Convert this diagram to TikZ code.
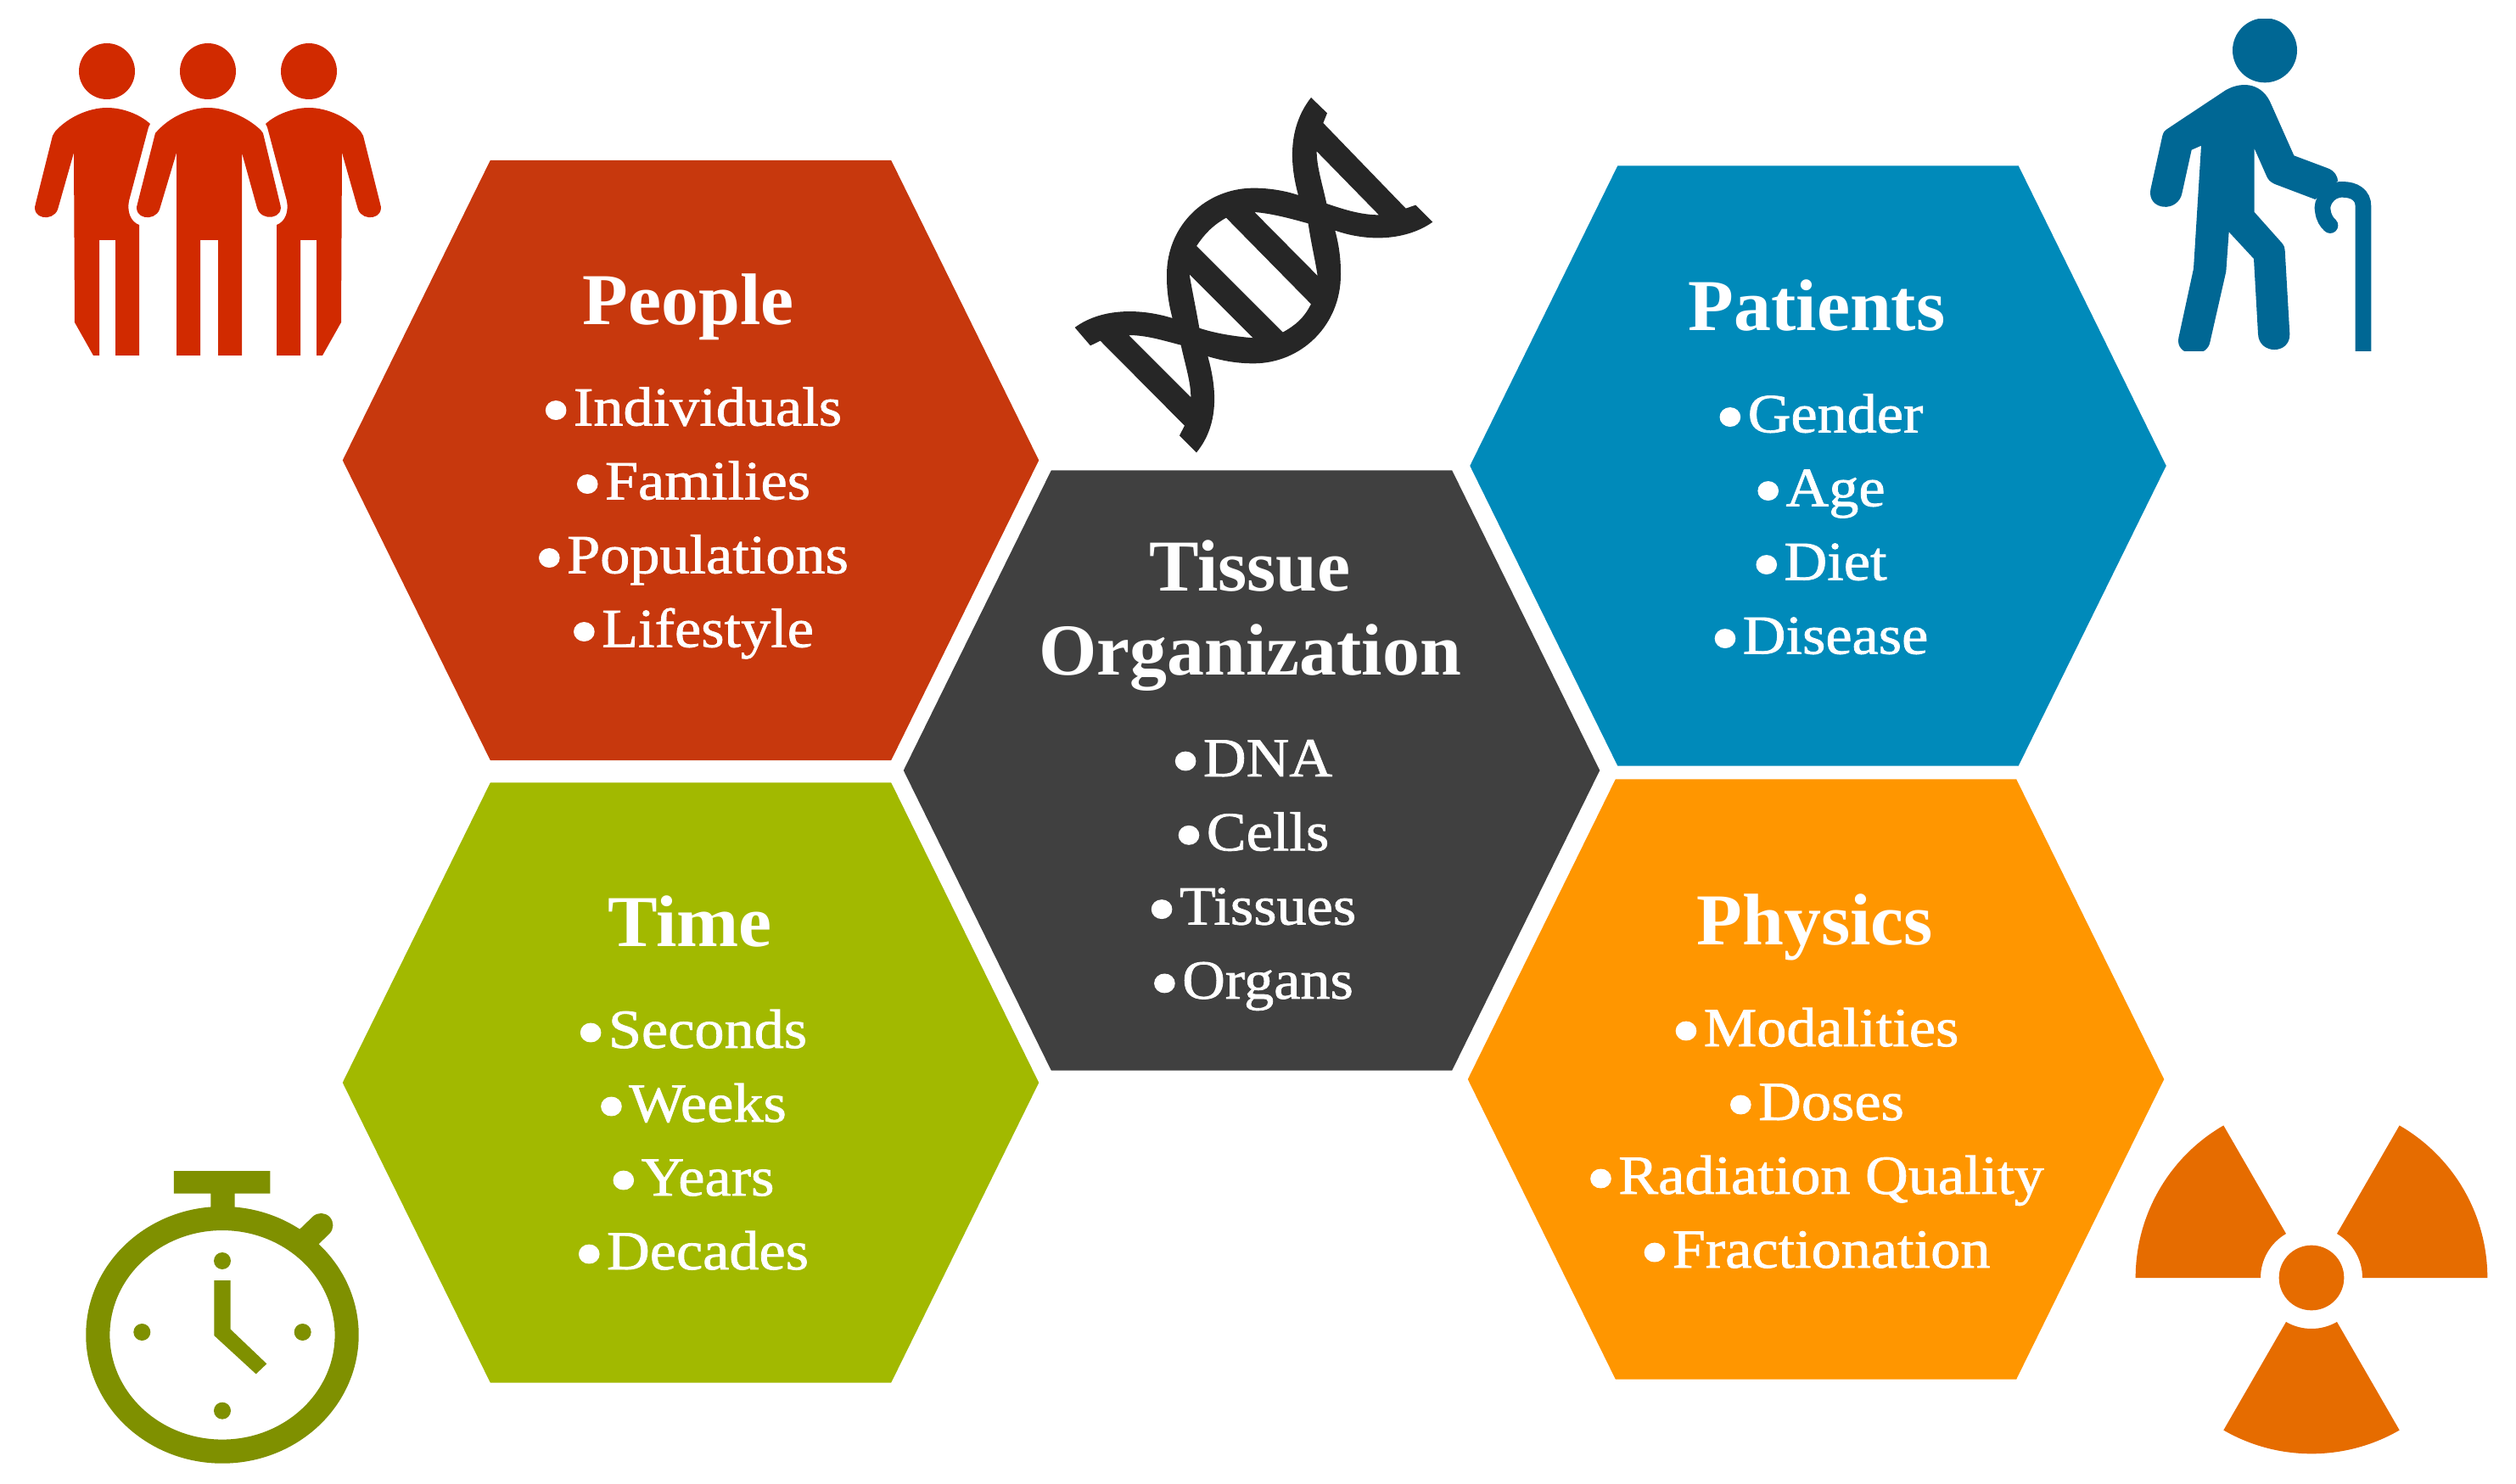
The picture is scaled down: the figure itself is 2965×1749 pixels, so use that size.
\documentclass[tikz,border=0pt]{standalone}
\usepackage{fontspec}
\setmainfont[FakeStretch=1.02]{Liberation Serif}
\newfontfamily\itemfont[FakeStretch=1.08,FakeBold=1.2]{Liberation Serif}
\definecolor{peopleRed}{HTML}{C7380D}
\definecolor{patientBlue}{HTML}{008ABA}
\definecolor{timeGreen}{HTML}{A2B900}
\definecolor{physicsOrange}{HTML}{FF9600}
\definecolor{tissueGrey}{HTML}{404040}
\definecolor{iconRed}{HTML}{D12A00}
\definecolor{iconBlue}{HTML}{006794}
\definecolor{iconGreen}{HTML}{7F9000}
\definecolor{iconOrange}{HTML}{E66C00}
\definecolor{iconDark}{HTML}{262626}
\newcommand{\hexbullet}{\raisebox{-3.5pt}{\fontsize{26}{26}\selectfont\textbullet}\kern1pt}
\tikzset{
  hexcell/.style={minimum width=8.2cm,minimum height=7.07cm,inner sep=0pt,
    path picture={\fill[#1] (path picture bounding box.west)
      -- ([xshift=1.74cm]path picture bounding box.north west) -- ([xshift=-1.74cm]path picture bounding box.north east)
      -- (path picture bounding box.east)
      -- ([xshift=-1.74cm]path picture bounding box.south east) -- ([xshift=1.74cm]path picture bounding box.south west) -- cycle;}},
  hextitle/.style={anchor=base,text=white,font=\fontsize{24.5}{28}\selectfont\bfseries},
  hexitem/.style={anchor=base,text=white,font=\fontsize{18.5}{22}\itemfont}
}
\begin{document}
\begin{tikzpicture}[x=0.01cm,y=-0.01cm]
\path[fill=white,use as bounding box] (0,0) rectangle (2965,1749);

% hexagons
\node[hexcell=peopleRed] (people) at (814,542.5) {};
\node[hexcell=patientBlue] (patients) at (2142.5,549) {};
\node[hexcell=timeGreen] (time) at (814,1276) {};
\node[hexcell=physicsOrange] (physics) at (2140,1272) {};
\node[hexcell=tissueGrey] (tissue) at (1475,908) {};

% titles
\node[hextitle] (peopleTitle) at (811,383) {People};
\node[hextitle] (patientsTitle) at (2141,390) {Patients};
\node[hextitle] (timeTitle) at (813,1115.5) {Time};
\node[hextitle] (physicsTitle) at (2139,1113) {Physics};
\node[hextitle] (tissueTitleA) at (1473,697) {Tissue};
\node[hextitle] (tissueTitleB) at (1473,796) {Organization};

% item lists
\foreach \t [count=\i] in {Individuals,Families,Populations,Lifestyle}
  \node[hexitem] (peopleItem\i) at (815,{501.5+87*(\i-1)}) {\hexbullet\t};
\foreach \t [count=\i] in {Gender,Age,Diet,Disease}
  \node[hexitem] (patientsItem\i) at (2144,{509.5+87*(\i-1)}) {\hexbullet\t};
\foreach \t [count=\i] in {Seconds,Weeks,Years,Decades}
  \node[hexitem] (timeItem\i) at (815,{1235+87*(\i-1)}) {\hexbullet\t};
\foreach \t [count=\i] in {Modalities,Doses,Radiation Quality,Fractionation}
  \node[hexitem] (physicsItem\i) at (2139,{1233+87*(\i-1)}) {\hexbullet\t};
\foreach \t [count=\i] in {DNA,Cells,Tissues,Organs}
  \node[hexitem] (tissueItem\i) at (1475,{915+87.3*(\i-1)}) {\hexbullet\t};

% three people
\fill[iconRed] (126,84) circle (33) (245,84) circle (33) (364,84) circle (33);
\fill[iconRed] (183,157) .. controls (200,137) and (225,127) .. (245,127) .. controls (265,127) and (290,137) .. (307,153)
  -- (310,157) -- (330,240) .. controls (336,258) and (308,262) .. (303,245) -- (285,180) -- (285,419) -- (257,419)
  -- (257,283) -- (236,283) -- (236,419) -- (208,419) -- (208,180) -- (188,247) .. controls (182,262) and (156,258) .. (162,240) -- cycle;
\foreach \flip/\move in {1/0,-1/490}
  \fill[iconRed,shift={(\move,0)},xscale=\flip] (65,155) .. controls (80,138) and (105,127) .. (126,127) .. controls (145,127) and (165,135) .. (177,146)
    -- (175,150) -- (153,233) .. controls (148,250) and (155,262) .. (164,265) -- (164,419) -- (136,419) -- (136,283) -- (117,283) -- (117,419)
    -- (110,419) -- (88,380) -- (87,180) -- (68,247) .. controls (62,262) and (36,258) .. (42,240) -- (62,160) -- cycle;

% walking patient with cane
\begin{scope}[shift={(2480,0)},scale=0.33333]
\clip (0,68) rectangle (1050,1240);
\fill[iconBlue] (567,178) circle (114);
\fill[iconBlue] (430,318) .. controls (490,285) and (560,295) .. (590,370) -- (670,550) -- (790,595) .. controls (815,605) and (825,625) .. (825,640)
  -- (745,705) -- (600,650) .. controls (585,642) and (578,635) .. (572,620) -- (530,525) -- (530,750) -- (628,860) .. controls (636,870) and (637,875) .. (638,885)
  -- (655,1180) .. controls (658,1255) and (545,1255) .. (543,1180) -- (528,915) -- (440,820) -- (430,960) -- (372,1215) .. controls (355,1270) and (250,1260) .. (262,1195)
  -- (315,950) -- (342,515) -- (308,530) -- (275,680) .. controls (262,755) and (150,745) .. (163,670) -- (205,480) .. controls (208,468) and (212,463) .. (222,456) -- cycle;
\draw[iconBlue,line width=5.3pt,line cap=round] (915,1300) -- (915,730) .. controls (915,690) and (885,670) .. (840,670)
  .. controls (790,670) and (765,720) .. (772,745) .. controls (775,770) and (785,785) .. (798,797);
\end{scope}

% helix
\begin{scope}[shift={(1240,100)},scale=0.33333]
\fill[iconDark,even odd rule] (915,45) -- (972,100) -- (958,135) -- (1250,437) -- (1285,425) -- (1345,485)
    .. controls (1260,545) and (1130,560) .. (1000,515) .. controls (1020,590) and (1020,640) .. (1020,672)
    .. controls (1020,850) and (880,985) .. (712,985) .. controls (650,985) and (600,975) .. (550,960)
    .. controls (575,1050) and (600,1190) .. (510,1300) -- (450,1240) -- (468,1205) -- (170,905) -- (135,922) -- (80,858)
    .. controls (165,795) and (295,785) .. (425,825) .. controls (405,750) and (405,700) .. (405,672)
    .. controls (405,495) and (545,365) .. (712,365) .. controls (770,365) and (825,375) .. (870,390)
    .. controls (845,300) and (825,160) .. (915,45) -- cycle
  (615,470) -- (915,775) .. controls (890,825) and (860,850) .. (815,875) -- (510,570) .. controls (540,525) and (570,495) .. (615,470) -- cycle
  (715,450) .. controls (780,455) and (850,475) .. (905,490) .. controls (915,560) and (930,620) .. (938,675) -- cycle
  (485,670) .. controls (495,730) and (510,800) .. (520,860) .. controls (580,880) and (650,890) .. (710,895) -- cycle
  (935,235) -- (1155,460) .. controls (1090,460) and (1030,440) .. (970,420) .. controls (955,350) and (935,290) .. (935,235) -- cycle
  (490,1105) -- (270,885) .. controls (335,885) and (395,905) .. (455,920) .. controls (470,990) and (490,1050) .. (490,1105) -- cycle;
\end{scope}

% stopwatch
\begin{scope}[shift={(70,1350)},scale=0.33333]
\draw[iconGreen,line width=8pt] (576,670) ellipse (440 and 412);
\fill[iconGreen] (405,90) rectangle (745,170) (535,170) rectangle (620,240);
\draw[iconGreen,line width=8pt,line cap=round] (865,340) -- (925,282);
\fill[iconGreen] (576,408) circle (30) (292,660) circle (30) (860,660) circle (30) (576,938) circle (30);
\fill[iconGreen] (547,477) -- (605,477) -- (605,650) -- (733,772) -- (695,808) -- (547,672) -- cycle;
\end{scope}

% radiation sign
\begin{scope}[shift={(2490,1300)},scale=0.33333]
\fill[iconOrange] (702,618) circle (115);
\foreach \a in {180,300,60}
  \fill[iconOrange] (702,618) ++(\a:180) -- ++(\a:442) arc[start angle=\a,delta angle=60,radius=622]
    -- ++(\a+60:-442) arc[start angle=\a+60,delta angle=-60,radius=180] -- cycle;
\end{scope}
\end{tikzpicture}
\end{document}
